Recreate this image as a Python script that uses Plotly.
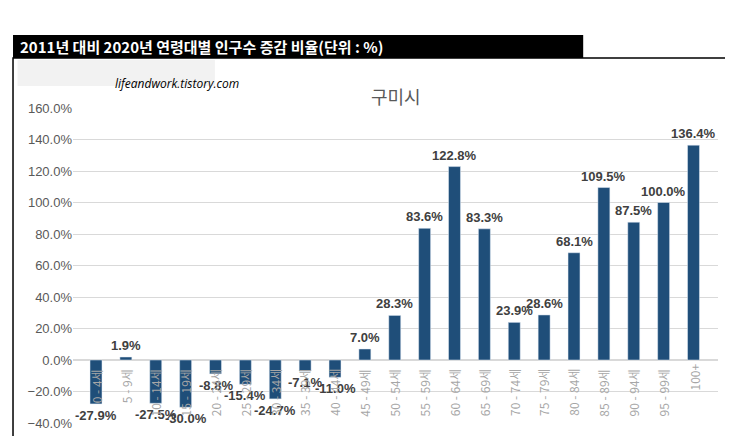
import plotly.graph_objects as go

ages = ['0 - 4세', '5 - 9세', '10 - 14세', '15 - 19세', '20 - 24세', '25 - 29세', '30 - 34세',
        '35 - 39세', '40 - 44세', '45 - 49세', '50 - 54세', '55 - 59세', '60 - 64세', '65 - 69세',
        '70 - 74세', '75 - 79세', '80 - 84세', '85 - 89세', '90 - 94세', '95 - 99세', '100+']
rates = [-27.9, 1.9, -27.5, -30.0, -8.8, -15.4, -24.7, -7.1, -11.0, 7.0, 28.3, 83.6,
         122.8, 83.3, 23.9, 28.6, 68.1, 109.5, 87.5, 100.0, 136.4]

BAR = '#1f4e79'

fig = go.Figure(go.Bar(x=ages, y=rates, marker_color=BAR, width=0.4))

# data labels
for a, v in zip(ages, rates):
    fig.add_annotation(x=a, y=v, text=f'<b>{v:.1f}%</b>', showarrow=False,
                       yanchor='bottom' if v >= 0 else 'top', yshift=2 if v >= 0 else -2,
                       font=dict(family='Liberation Sans', size=13, color='#404040'))

# category labels sit next to the zero line, rotated
for a in ages:
    w = sum(12 if ord(c) > 0x1000 else 6.5 for c in a)
    fig.add_annotation(x=a, y=0, text=a, textangle=-90, showarrow=False,
                       yshift=-(w / 2 + 4),
                       font=dict(family='Noto Sans CJK KR', size=12, color='#a6a6a6'))

# header bar
fig.add_shape(type='rect', xref='paper', yref='paper', x0=-0.093, x1=0.791, y0=1.159, y1=1.232,
              fillcolor='black', line_width=0, layer='above')
fig.add_annotation(xref='paper', yref='paper', x=-0.085, y=1.195, xanchor='left', yanchor='middle',
                   text='<b>2011년 대비 2020년 연령대별 인구수 증감 비율(단위 : %)</b>', showarrow=False,
                   font=dict(family='Noto Sans CJK KR', size=15, color='white'))
# watermark box
fig.add_shape(type='rect', xref='paper', yref='paper', x0=-0.086, x1=0.22, y0=1.070, y1=1.152,
              fillcolor='#f2f2f2', line_width=0)
fig.add_annotation(xref='paper', yref='paper', x=0.062, y=1.111, text='<i>lifeandwork.tistory.com</i>',
                   showarrow=False, font=dict(family='Open Sans', size=12, color='black'))
# chart title
fig.add_annotation(xref='paper', yref='paper', x=0.5, y=1.087, text='구미시', showarrow=False,
                   font=dict(family='Noto Sans CJK KR', size=18, color='#595959'))
# chart border
fig.add_shape(type='rect', xref='paper', yref='paper', x0=-0.093, x1=1.023, y0=-0.063, y1=1.159,
              line=dict(color='black', width=1.5), fillcolor='rgba(0,0,0,0)')

fig.update_layout(
    width=733, height=436, margin=dict(l=65, r=23, t=100, b=21),
    paper_bgcolor='white', plot_bgcolor='white', showlegend=False,
    xaxis=dict(showticklabels=False, showline=False),
    yaxis=dict(range=[-40, 160], dtick=20, ticksuffix='.0%', tickformat='d',
               gridcolor='#d9d9d9', zeroline=True, zerolinecolor='#d9d9d9',
               tickfont=dict(family='Liberation Sans', size=13, color='#595959')),
)

fig.write_html('out.html')
